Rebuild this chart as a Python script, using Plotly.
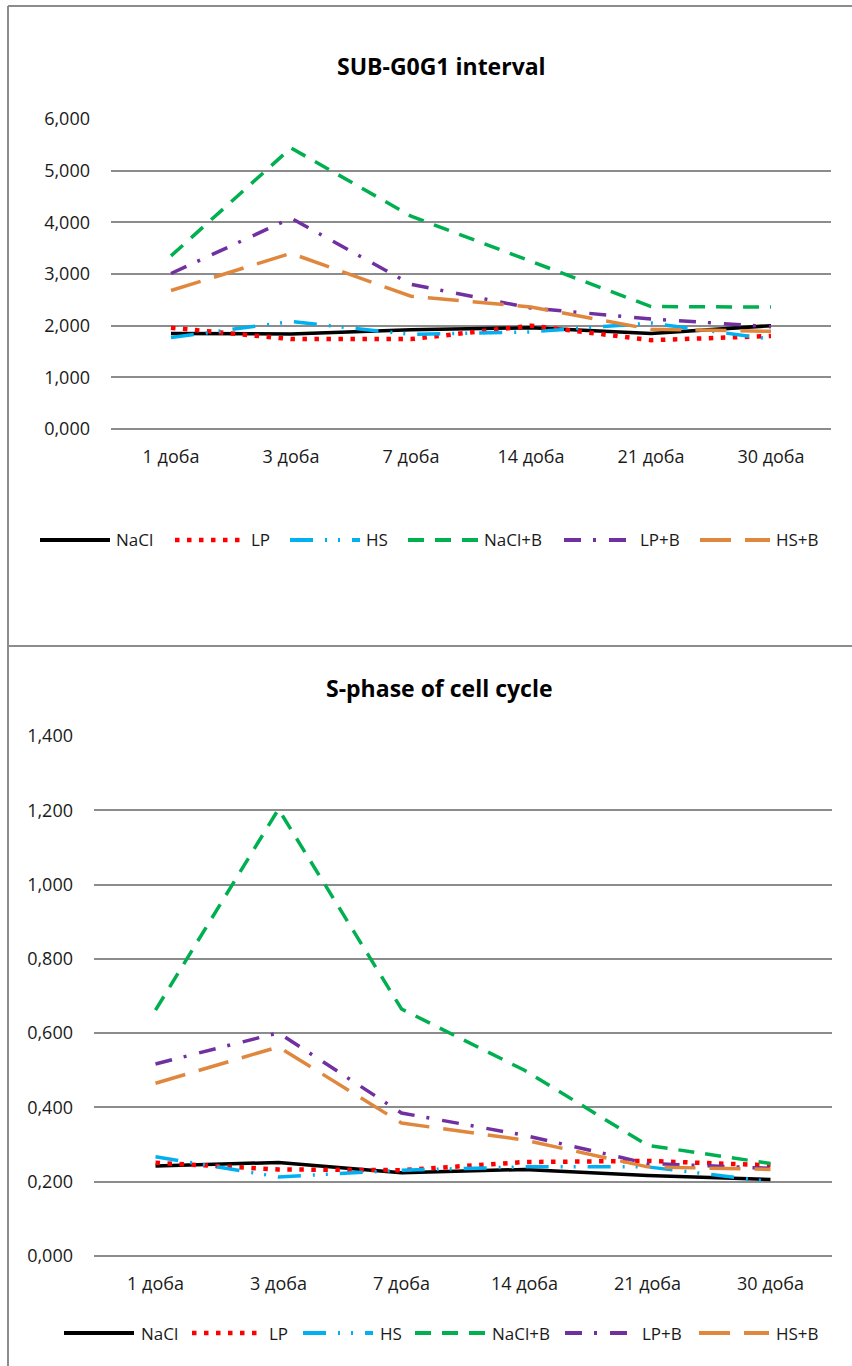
import plotly.graph_objects as go

# ---------------- data ----------------
categories = ["1 доба", "3 доба", "7 доба", "14 доба", "21 доба", "30 доба"]
series_names = ["NaCl", "LP", "HS", "NaCl+B", "LP+B", "HS+B"]

# SUB-G0G1 interval
sub_nacl = [1.85, 1.84, 1.92, 1.96, 1.85, 2.00]
sub_lp = [1.96, 1.74, 1.74, 2.00, 1.72, 1.80]
sub_hs = [1.77, 2.08, 1.83, 1.88, 2.05, 1.74]
sub_naclb = [3.35, 5.44, 4.12, 3.25, 2.37, 2.36]
sub_lpb = [3.01, 4.08, 2.80, 2.34, 2.13, 1.98]
sub_hsb = [2.68, 3.40, 2.57, 2.36, 1.93, 1.89]

# S-phase of cell cycle
s_nacl = [0.242, 0.252, 0.224, 0.233, 0.217, 0.206]
s_lp = [0.251, 0.233, 0.231, 0.253, 0.256, 0.244]
s_hs = [0.267, 0.213, 0.231, 0.240, 0.240, 0.200]
s_naclb = [0.662, 1.203, 0.665, 0.500, 0.298, 0.249]
s_lpb = [0.517, 0.601, 0.385, 0.325, 0.249, 0.236]
s_hsb = [0.465, 0.563, 0.358, 0.312, 0.240, 0.233]

top_ticks = [0, 1, 2, 3, 4, 5, 6]
top_ticktext = ["0,000", "1,000", "2,000", "3,000", "4,000", "5,000", "6,000"]
bot_ticks = [0, 0.2, 0.4, 0.6, 0.8, 1.0, 1.2, 1.4]
bot_ticktext = ["0,000", "0,200", "0,400", "0,600", "0,800", "1,000", "1,200", "1,400"]

top_title = "SUB-G0G1 interval"
bot_title = "S-phase of cell cycle"

# ---------------- styles ----------------
W, H = 852, 1366
FONT = "Open Sans, Noto Sans, sans-serif"
styles = [
    dict(color="#000000", dash="solid"),
    dict(color="#FF0000", dash="4.5px,7.5px"),
    dict(color="#00B0F0", dash="23px,12px,2px,11px,2px,12px"),
    dict(color="#00B050", dash="16px,11px"),
    dict(color="#7030A0", dash="17px,12px,3px,13px"),
    dict(color="#E0873E", dash="31px,14px"),
]
LW = 3.5
GRID = "#8c8c8c"

def px_x(p):
    return p / W

def px_y(p):
    return 1 - p / H

top_series = [sub_nacl, sub_lp, sub_hs, sub_naclb, sub_lpb, sub_hsb]
bot_series = [s_nacl, s_lp, s_hs, s_naclb, s_lpb, s_hsb]

fig = go.Figure()
for name, vals, st in zip(series_names, top_series, styles):
    fig.add_trace(go.Scatter(x=categories, y=vals, name=name, mode="lines",
                             line=dict(color=st["color"], dash=st["dash"],
                                       width=4.5 if name == "LP" else LW),
                             xaxis="x", yaxis="y", showlegend=False))
for name, vals, st in zip(series_names, bot_series, styles):
    fig.add_trace(go.Scatter(x=categories, y=vals, name=name, mode="lines",
                             line=dict(color=st["color"], dash=st["dash"],
                                       width=4.5 if name == "LP" else LW),
                             xaxis="x2", yaxis="y2", showlegend=False))

tickfont = dict(family=FONT, size=18, color="#1a1a1a")
common_x = dict(type="category", range=[-0.5, 5.5], showgrid=False, showline=False,
                zeroline=False, ticks="", tickfont=tickfont, ticklabelstandoff=15,
                categoryorder="array", categoryarray=categories, automargin=False)
common_y = dict(showgrid=True, gridcolor=GRID, gridwidth=1.5, showline=False,
                zeroline=True, zerolinecolor=GRID, zerolinewidth=1.5, ticks="",
                tickfont=tickfont, ticklabelstandoff=20, automargin=False)

fig.update_layout(
    width=W, height=H, autosize=False,
    margin=dict(l=0, r=0, t=0, b=0, pad=0, autoexpand=False),
    paper_bgcolor="white", plot_bgcolor="white",
    font=dict(family=FONT, color="#1a1a1a"),
    xaxis=dict(domain=[px_x(111), px_x(831)], anchor="y", **common_x),
    yaxis=dict(domain=[px_y(429), px_y(119)], anchor="x", range=[0, 6],
               tickvals=top_ticks, ticktext=top_ticktext, **common_y),
    xaxis2=dict(domain=[px_x(94), px_x(832)], anchor="y2", **common_x),
    yaxis2=dict(domain=[px_y(1256), px_y(736)], anchor="x2", range=[0, 1.4],
                tickvals=bot_ticks, ticktext=bot_ticktext, **common_y),
    showlegend=False,
)

annotations = [
    dict(text="<b>%s</b>" % top_title, x=px_x(441), y=px_y(66), xref="paper", yref="paper",
         showarrow=False, xanchor="center", yanchor="middle",
         font=dict(family=FONT, size=23, color="#000")),
    dict(text="<b>%s</b>" % bot_title, x=px_x(439), y=px_y(688), xref="paper", yref="paper",
         showarrow=False, xanchor="center", yanchor="middle",
         font=dict(family=FONT, size=23, color="#000")),
]
shapes = []

# chart borders
border = dict(color="#8c8c8c", width=2)
shapes.append(dict(type="line", xref="paper", yref="paper", x0=px_x(8), x1=1, y0=px_y(6), y1=px_y(6), line=border))
shapes.append(dict(type="line", xref="paper", yref="paper", x0=px_x(8), x1=px_x(8), y0=px_y(6), y1=0, line=border))
shapes.append(dict(type="line", xref="paper", yref="paper", x0=px_x(8), x1=1, y0=px_y(646), y1=px_y(646), line=border))

# legends (drawn manually to get Excel-length line samples)
legend_rows = [
    (540, [116, 251, 366, 484, 640, 776], 76, 6),
    (1333, [141, 269, 380, 492, 642, 776], 77, 7),
]
for ly, label_xs, l0, l1 in legend_rows:
    for name, lx, st in zip(series_names, label_xs, styles):
        shapes.append(dict(type="line", xref="paper", yref="paper",
                           x0=px_x(lx - l0), x1=px_x(lx - l1), y0=px_y(ly), y1=px_y(ly),
                           line=dict(color=st["color"], dash=st["dash"],
                                     width=4.5 if name == "LP" else 4)))
        annotations.append(dict(text=name, x=px_x(lx - 2), y=px_y(ly), xref="paper", yref="paper",
                                showarrow=False, xanchor="left", yanchor="middle",
                                font=dict(family=FONT, size=17, color="#1a1a1a")))

fig.update_layout(annotations=annotations, shapes=shapes)

fig.write_html("out.html", config={"displayModeBar": False},
               post_script="document.body.style.margin='0';document.body.style.overflow='hidden';")
